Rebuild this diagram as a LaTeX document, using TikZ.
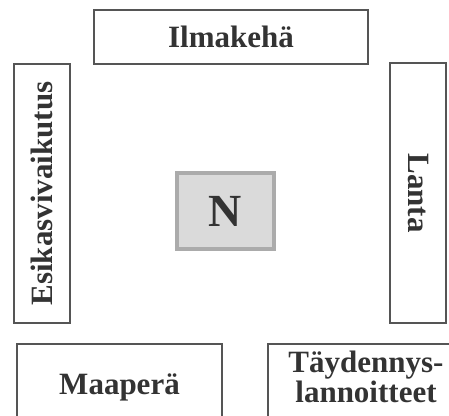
\documentclass[tikz,border=0pt]{standalone}
\usepackage{fontspec}
\setmainfont{Liberation Serif}
\definecolor{boxline}{HTML}{555555}
\definecolor{txtcol}{HTML}{333333}
\definecolor{nfill}{HTML}{DADADA}
\definecolor{nline}{HTML}{ABABAB}
\tikzset{
  box/.style={draw=boxline, line width=1.5pt, rectangle, inner sep=0pt, text=txtcol,
    font=\bfseries\fontsize{31}{30}\selectfont},
  plain/.style={inner sep=0pt, text=txtcol, font=\bfseries\fontsize{31}{30}\selectfont, align=center}
}
\begin{document}
\begin{tikzpicture}[x=1pt,y=1pt]
\useasboundingbox (0,0) rectangle (449,415);
\clip (0,0) rectangle (449,415);
\node[box, minimum width=274pt, minimum height=54pt] (ilma) at (231,378) {Ilmakehä};
\node[box, rotate=90, minimum width=259pt, minimum height=56pt] (esik) at (42,221.5) {Esikasvivaikutus};
\node[box, rotate=-90, minimum width=260pt, minimum height=56pt] (lanta) at (418,222) {Lanta};
\node[draw=nline, fill=nfill, line width=4pt, inner sep=0pt, minimum width=97pt, minimum height=76pt,
  text=txtcol, font=\bfseries\fontsize{46}{46}\selectfont] (n) at (225.5,204) {N};
\node[box, minimum width=205pt, minimum height=86pt] (maa) at (119.5,28) {Maaperä};
\node[box, minimum width=202pt, minimum height=86pt] (tay) at (369,28) {};
\node[plain] (taytxt) at (366,38) {Täydennys-\\lannoitteet};
\end{tikzpicture}
\end{document}
